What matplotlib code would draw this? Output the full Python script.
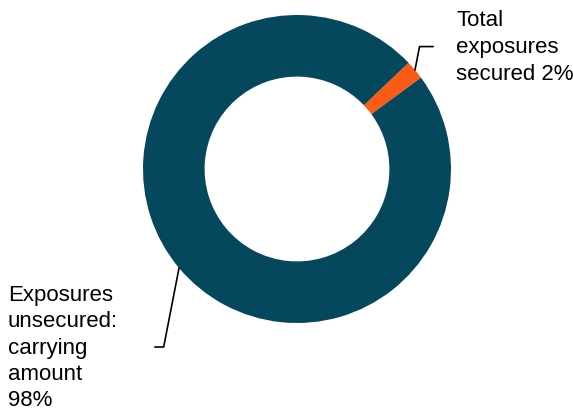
import numpy as np
import matplotlib.pyplot as plt

plt.rcParams['font.family'] = ['Liberation Sans', 'DejaVu Sans']

# data
labels = ['Total\nexposures\nsecured 2%', 'Exposures\nunsecured:\ncarrying\namount\n98%']
shares = [2, 98]
colors = ['#fb5a17', '#05475d']

fig = plt.figure(figsize=(5.73, 4.14), dpi=100)
ax = fig.add_axes([0, 0, 1, 1])

wedges, _ = ax.pie(shares, colors=colors, startangle=36.4, counterclock=True,
                   radius=1.0, wedgeprops=dict(width=0.4, linewidth=0))

# view so that the donut sits where it does in the reference
ax.set_xlim(-297 / 154, (573 - 297) / 154)
ax.set_ylim(-(414 - 170) / 154, 170 / 154)
ax.set_aspect('equal')
ax.axis('off')

# label placement: text anchor, horizontal alignment, gap to the leader line
text_pos = [(1.0325, 0.795), (-1.162, -1.156)]
aligns = ['left', 'right']
gaps = [14.4, 24.5]
spacing = [1.4, 1.33]

for w, lab, (tx, ty), ha, gap, ls in zip(wedges, labels, text_pos, aligns, gaps, spacing):
    mid = np.deg2rad((w.theta1 + w.theta2) / 2)
    xy = (np.cos(mid), np.sin(mid))
    ax.annotate(lab, xy=xy, xytext=(tx, ty), ha=ha, va='center',
                multialignment='left',
                fontsize=16, color='#000000', linespacing=ls,
                arrowprops=dict(arrowstyle='-', color='black', lw=1.2,
                                relpos=(0, 0.5) if ha == 'left' else (1, 0.5),
                                shrinkA=gap, shrinkB=0,
                                connectionstyle='angle,angleA=0,angleB=79,rad=0'))

fig.savefig('out.png', dpi=100)
